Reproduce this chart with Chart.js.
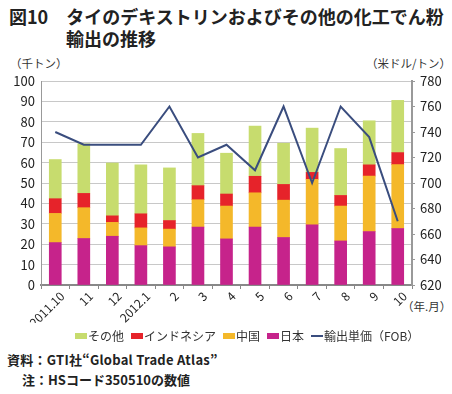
<!doctype html>
<html lang="ja">
<head>
<meta charset="utf-8">
<title>タイのデキストリン輸出</title>
<style>
  * { margin: 0; padding: 0; }
  body { width: 452px; height: 394px; background: #fff; position: relative; overflow: hidden;
         font-family: "Noto Sans CJK JP", sans-serif; color: #222; }
  .abs { position: absolute; white-space: nowrap; }
  .title { font-size: 18px; font-weight: bold; line-height: 20px; }
  .unit { font-size: 11.5px; color: #333; }
  .note { font-size: 13px; font-weight: bold; }
  #chartBox { position: absolute; left: 0; top: 0; width: 452px; height: 394px; }
  #legend { position: absolute; left: 75px; top: 327px; display: flex; align-items: center;
            font-size: 12px; color: #333; line-height: 18px; }
  #legend .item { display: flex; align-items: center; margin-right: 7px; }
  #legend .sw { width: 12px; height: 6px; margin-right: 1px; }
  #legend .ln { width: 12px; height: 2px; margin-right: 1px; }
</style>
</head>
<body>
  <div class="abs title" style="left:9px; top:6px;">図10　タイのデキストリンおよびその他の化工でん粉</div>
  <div class="abs title" style="left:66px; top:28px;">輸出の推移</div>
  <div class="abs unit" style="left:10px; top:55px;">（千トン）</div>
  <div class="abs unit" style="left:366px; top:55px;">（米ドル/トン）</div>
  <div class="abs unit" style="left:402px; top:298px;">（年.月）</div>
  <div class="abs note" style="left:7px; top:350px; letter-spacing:0.25px;">資料：GTI社“Global Trade Atlas”</div>
  <div class="abs note" style="left:22px; top:370px;">注：HSコード350510の数値</div>

  <div id="chartBox"><canvas id="myChart"></canvas></div>
  <div id="legend"></div>

  <script src="https://cdn.jsdelivr.net/npm/chart.js"></script>
  <script>
    // months
    const labels = ['2011.10', '11', '12', '2012.1', '2', '3', '4', '5', '6', '7', '8', '9', '10'];

    // thousand tons, bottom to top
    const japan     = [20.8, 22.8, 23.9, 19.3, 18.7, 28.4, 22.6, 28.4, 23.3, 29.5, 21.6, 26.2, 27.7];
    const china     = [14.3, 15.1,  6.8,  8.7,  8.7, 13.4, 16.1, 16.8, 18.3, 22.3, 17.1, 27.2, 31.3];
    const indonesia = [ 7.2,  7.0,  3.2,  6.9,  4.2,  6.9,  5.9,  8.1,  7.7,  3.4,  5.2,  5.5,  5.9];
    const others    = [19.2, 24.3, 25.9, 24.0, 25.8, 25.6, 20.0, 24.6, 20.2, 21.7, 23.0, 21.6, 25.6];

    // export unit price (FOB), USD/ton
    const unitPrice = [740, 730, 730, 730, 760, 720, 730, 710, 760, 700, 760, 736, 670];

    Chart.defaults.font.family = '"Noto Sans CJK JP", sans-serif';
    Chart.defaults.color = '#222';

    const barBase = { barThickness: 12, borderWidth: 0, stack: 's' };

    const data = {
      labels,
      datasets: [
        { ...barBase, label: '日本', data: japan, backgroundColor: '#c6238b' },
        { ...barBase, label: '中国', data: china, backgroundColor: '#f4b82a' },
        { ...barBase, label: 'インドネシア', data: indonesia, backgroundColor: '#e6232a' },
        { ...barBase, label: 'その他', data: others, backgroundColor: '#c7dc6e' },
        {
          type: 'line', label: '輸出単価（FOB）', data: unitPrice, yAxisID: 'y1',
          borderColor: '#3a4d7e', backgroundColor: '#3a4d7e', borderWidth: 2,
          pointRadius: 0, tension: 0, order: -1
        }
      ]
    };

    const config = {
      type: 'bar',
      data,
      options: {
        responsive: false,
        animation: false,
        layout: { padding: { left: 0, right: 0, top: 81, bottom: 71 } },
        plugins: {
          tooltip: { enabled: false },
          legend: { display: false }
        },
        scales: {
          x: {
            stacked: true,
            grid: { drawOnChartArea: false, offset: true, tickLength: 4, color: '#888' },
            border: { color: '#888', width: 2 },
            ticks: { maxRotation: 45, minRotation: 45, font: { size: 12 }, padding: 0, labelOffset: 7 },
            afterFit: s => { s.height = 38; }
          },
          y: {
            stacked: true,
            min: 0, max: 100,
            ticks: { stepSize: 10, font: { size: 13 }, padding: 6 },
            grid: { color: '#c8c8c8', drawTicks: false },
            border: { color: '#999', width: 1 },
            afterFit: s => { s.width = 41; }
          },
          y1: {
            position: 'right',
            min: 620, max: 780,
            ticks: { stepSize: 20, font: { size: 13 }, padding: 5 },
            grid: { drawOnChartArea: false, tickLength: 3, color: '#999' },
            border: { color: '#999', width: 2 },
            afterFit: s => { s.width = 40; }
          }
        }
      }
    };

    const canvas = document.getElementById('myChart');
    canvas.width = 452;
    canvas.height = 394;
    const myChart = new Chart(canvas, config);

    // legend: その他, インドネシア, 中国, 日本, 輸出単価
    const legendOrder = [3, 2, 1, 0, 4];
    const legendEl = document.getElementById('legend');
    legendOrder.forEach(i => {
      const ds = data.datasets[i];
      const item = document.createElement('div');
      item.className = 'item';
      const mark = document.createElement('span');
      mark.className = ds.type === 'line' ? 'ln' : 'sw';
      mark.style.background = ds.type === 'line' ? ds.borderColor : ds.backgroundColor;
      item.appendChild(mark);
      item.appendChild(document.createTextNode(ds.label));
      legendEl.appendChild(item);
    });
  </script>
</body>
</html>
